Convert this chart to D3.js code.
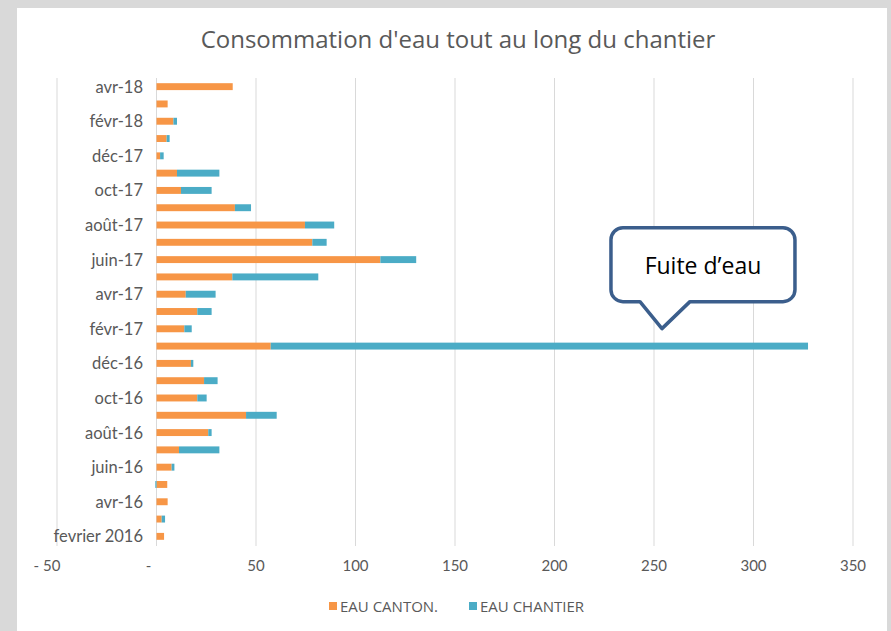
<!DOCTYPE html>
<html>
<head>
<meta charset="utf-8">
<script src="https://cdn.jsdelivr.net/npm/d3@7"></script>
<style>
  body { margin: 0; background: #d9d9d9; }
  svg { display: block; }
</style>
</head>
<body>
<script>
// months, bottom to top
var months = ["fevrier 2016","mars-16","avr-16","mai-16","juin-16","juil-16","août-16","sept-16","oct-16","nov-16","déc-16",
  "janv-17","févr-17","mars-17","avr-17","mai-17","juin-17","juil-17","août-17","sept-17","oct-17","nov-17","déc-17",
  "janv-18","févr-18","mars-18","avr-18"];
var eauCanton = [3.8,2.6,5.6,5.4,7.6,11.3,26,45,20.5,23.9,17.3,
  57.4,14,20.5,14.7,38.1,112.5,78.3,74.6,39.4,12.3,10.3,1.8,
  5.1,8.5,5.6,38.3];
var eauChantier = [0,1.7,0,-0.6,1.4,20.3,1.7,15.4,4.7,6.8,1.2,
  270,3.7,7.2,15,43.2,18,7.2,14.7,8.1,15.4,21.3,1.8,
  1.5,1.8,0,0];
var xTicks = [-50,0,50,100,150,200,250,300,350];
var seriesNames = ["EAU CANTON.", "EAU CHANTIER"];
var seriesColors = ["#F79646", "#4BACC6"];

var W = 891, H = 631;
var svg = d3.select("body").append("svg").attr("width", W).attr("height", H);

// white chart area inside the grey frame
svg.append("rect").attr("x", 17).attr("y", 8).attr("width", W - 21).attr("height", H - 8).attr("fill", "#fff");

svg.append("text")
  .attr("x", 458).attr("y", 48)
  .attr("text-anchor", "middle")
  .style("font-family", "'Open Sans', sans-serif")
  .style("font-size", "24px")
  .attr("fill", "#595959")
  .text("Consommation d'eau tout au long du chantier");

var x = d3.scaleLinear().domain([-50, 350]).range([57, 853]);
var y = d3.scaleBand().domain(months.slice().reverse()).range([78, 545]).paddingInner(0.6).paddingOuter(0.3);

// gridlines
svg.append("g").selectAll("line").data(xTicks).enter().append("line")
  .attr("x1", function(d) { return x(d); }).attr("x2", function(d) { return x(d); })
  .attr("y1", 78).attr("y2", 546)
  .attr("stroke", "#d9d9d9").attr("stroke-width", 1);

// x tick labels
var fmt = function(d) { return d < 0 ? "- " + Math.abs(d) : d === 0 ? "-" : d; };
svg.append("g").selectAll("text").data(xTicks).enter().append("text")
  .attr("x", function(d) { return x(d) + (d === 0 ? -8 : d < 0 ? -10 : 0); })
  .attr("y", 571)
  .attr("text-anchor", "middle")
  .style("font-family", "Lato, sans-serif").style("font-size", "15px")
  .attr("fill", "#595959")
  .text(fmt);

// category labels, every second month
svg.append("g").selectAll("text").data(months.filter(function(d, i) { return i % 2 === 0; })).enter().append("text")
  .attr("x", 143)
  .attr("y", function(d) { return y(d) + y.bandwidth() / 2 + 6; })
  .attr("text-anchor", "end")
  .style("font-family", "Lato, sans-serif").style("font-size", "16.5px")
  .attr("fill", "#595959")
  .text(function(d) { return d; });

// stacked bars
var rows = months.map(function(m, i) { return {m: m, a: eauCanton[i], b: eauChantier[i]}; });
var bars = svg.append("g");
bars.selectAll(".canton").data(rows).enter().append("rect")
  .attr("x", x(0))
  .attr("y", function(d) { return y(d.m); })
  .attr("width", function(d) { return x(d.a) - x(0); })
  .attr("height", y.bandwidth())
  .attr("fill", seriesColors[0]);
bars.selectAll(".chantier").data(rows.filter(function(d) { return d.b !== 0; })).enter().append("rect")
  .attr("x", function(d) { return d.b > 0 ? x(d.a) : x(d.b); })
  .attr("y", function(d) { return y(d.m); })
  .attr("width", function(d) { return d.b > 0 ? x(d.a + d.b) - x(d.a) : x(0) - x(d.b); })
  .attr("height", y.bandwidth())
  .attr("fill", seriesColors[1]);

// legend
var legend = svg.append("g").attr("transform", "translate(329,607)");
var lx = [0, 140];
seriesNames.forEach(function(s, i) {
  legend.append("rect").attr("x", lx[i]).attr("y", -5).attr("width", 8).attr("height", 8).attr("fill", seriesColors[i]);
  legend.append("text").attr("x", lx[i] + 11).attr("y", 5)
    .style("font-family", "'Liberation Sans Narrow', 'Open Sans', sans-serif").style("font-size", "15px")
    .attr("fill", "#595959").text(s);
});

// callout pointing at the leak
var tipX = x(254), tipY = y("janv-17") - 14;
var bx0 = tipX - 51, bx1 = tipX + 133, by0 = tipY - 101, by1 = tipY - 27, r = 12;
var p = d3.path();
p.moveTo(bx0 + r, by0);
p.lineTo(bx1 - r, by0); p.arcTo(bx1, by0, bx1, by0 + r, r);
p.lineTo(bx1, by1 - r); p.arcTo(bx1, by1, bx1 - r, by1, r);
p.lineTo(tipX + 28, by1); p.lineTo(tipX, tipY); p.lineTo(tipX - 22, by1);
p.lineTo(bx0 + r, by1); p.arcTo(bx0, by1, bx0, by1 - r, r);
p.lineTo(bx0, by0 + r); p.arcTo(bx0, by0, bx0 + r, by0, r);
p.closePath();
svg.append("path").attr("d", p.toString())
  .attr("fill", "#fff").attr("stroke", "#3B5E8C").attr("stroke-width", 3.5).attr("stroke-linejoin", "round");
svg.append("text").attr("x", (bx0 + bx1) / 2).attr("y", (by0 + by1) / 2 + 9)
  .attr("text-anchor", "middle")
  .style("font-family", "'Open Sans', sans-serif").style("font-size", "23px")
  .attr("fill", "#000").text("Fuite d’eau");
</script>
</body>
</html>
